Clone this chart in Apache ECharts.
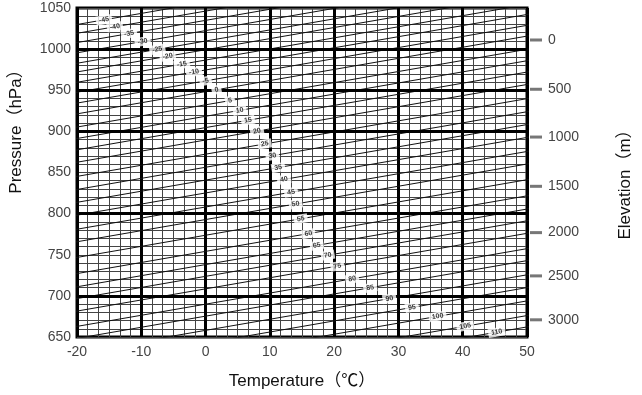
<!DOCTYPE html>
<html>
<head>
<meta charset="utf-8">
<script src="https://cdn.jsdelivr.net/npm/echarts@6/dist/echarts.min.js"></script>
<style>
html,body{margin:0;padding:0;background:#fff;}
#chart{width:642px;height:395px;}
</style>
</head>
<body>
<div id="chart"></div>
<script>
// ---- data ----
const lineValues = [-45,-40,-35,-30,-25,-20,-15,-10,-5,0,5,10,15,20,25,30,35,40,45,50,55,60,65,70,75,80,85,90,95,100,105,110];
// label anchor of each diagonal line (temperature, pressure)
const labelTemps = [-15.8,-14.1,-11.9,-9.8,-7.5,-5.9,-3.7,-1.8,0.0,1.7,3.8,5.3,6.6,8.0,9.2,10.4,11.3,12.2,13.3,14.0,14.8,16.0,17.3,19.0,20.5,22.8,25.6,28.6,32.1,36.1,40.4,45.3];
const labelPress = [1035.6,1027.2,1018.9,1009.3,999.7,991.3,981.7,972.2,961.4,950.6,937.4,925.5,913.5,900.3,884.7,870.4,856.0,841.6,826.0,811.7,793.7,775.7,761.4,749.4,736.2,720.7,709.9,696.7,685.9,675.1,663.1,655.9];
const lineSlope = 1.35; // hPa per degC, common slope of the diagonal lines
const majorPressures = [1000, 950, 900, 800, 700];
const elevations = [0, 500, 1000, 1500, 2000, 2500, 3000];
const elevPressures = [1011.1, 951.2, 893.1, 833.2, 776.9, 724.3, 670.9];

const FONT = 'Liberation Sans, Arial, Noto Sans CJK SC, sans-serif';
const chart = echarts.init(document.getElementById('chart'), null, {renderer: 'canvas'});

const series = [];
lineValues.forEach((v, i) => {
  const t0 = -30, t1 = 60;
  series.push({
    type: 'line', name: 'line' + v, silent: true, symbol: 'none', animation: false,
    clip: true, z: 3,
    lineStyle: {color: '#111', width: 1},
    data: [[t0, labelPress[i] + lineSlope * (t0 - labelTemps[i])],
           [t1, labelPress[i] + lineSlope * (t1 - labelTemps[i])]]
  });
});
// thick pressure lines
series.push({
  type: 'line', data: [], silent: true, animation: false, z: 4,
  markLine: {
    silent: true, symbol: ['none', 'none'], animation: false,
    label: {show: false},
    lineStyle: {color: '#000', width: 3, type: 'solid'},
    data: majorPressures.map(p => ({yAxis: p}))
  }
});
// labels of diagonal lines
series.push({
  type: 'scatter', silent: true, animation: false, z: 10, symbolSize: 1,
  itemStyle: {color: 'rgba(0,0,0,0)'},
  data: lineValues.map((v, i) => ({value: [labelTemps[i], labelPress[i]], name: String(v)})),
  label: {
    show: true, position: 'inside', formatter: p => p.name, rotate: 10,
    fontSize: 7, fontFamily: FONT, color: '#000', fontWeight: 'bold',
    backgroundColor: '#fff', padding: [1, 3]
  }
});
// elevation scale on the right
series.push({
  type: 'custom', silent: true, animation: false, z: 10, clip: false,
  data: elevations.map((e, i) => [e, elevPressures[i]]),
  renderItem: function (params, api) {
    const pt = api.coord([50, api.value(1)]);
    return {
      type: 'group',
      children: [
        {type: 'line', shape: {x1: pt[0] + 3, y1: pt[1], x2: pt[0] + 15, y2: pt[1]},
         style: {stroke: '#777', lineWidth: 3}},
        {type: 'text', x: pt[0] + 21, y: pt[1],
         style: {text: String(api.value(0)), fill: '#444', fontSize: 14, fontFamily: FONT,
                 verticalAlign: 'middle', align: 'left'}}
      ]
    };
  }
});

chart.setOption({
  animation: false,
  backgroundColor: '#fff',
  grid: {left: 69, right: 107, top: 8, bottom: 53, show: true, borderColor: '#000', borderWidth: 3, backgroundColor: 'transparent'},
  xAxis: {
    type: 'value', min: -20, max: 50, interval: 10,
    name: 'Temperature（℃）', nameLocation: 'middle', nameGap: 36,
    nameTextStyle: {fontSize: 17, fontFamily: FONT, color: '#111'},
    axisLine: {show: false}, axisTick: {show: false},
    axisLabel: {fontSize: 14, fontFamily: FONT, color: '#444', margin: 8, formatter: v => String(v)},
    splitLine: {show: true, lineStyle: {color: '#000', width: 3}},
    minorTick: {show: false, splitNumber: 6},
    minorSplitLine: {show: true, lineStyle: {color: '#444', width: 1}}
  },
  yAxis: [{
    type: 'value', min: 650, max: 1050, interval: 50,
    name: 'Pressure（hPa）', nameLocation: 'middle', nameGap: 52, nameRotate: 90,
    nameTextStyle: {fontSize: 17, fontFamily: FONT, color: '#111', padding: [0, 0, 0, 90]},
    axisLine: {show: false}, axisTick: {show: false},
    axisLabel: {fontSize: 14, fontFamily: FONT, color: '#444', margin: 6, formatter: v => String(v)},
    splitLine: {show: true, lineStyle: {color: '#444', width: 1}},
    minorTick: {show: false, splitNumber: 5},
    minorSplitLine: {show: true, lineStyle: {color: '#444', width: 1}}
  }, {
    type: 'value', min: 650, max: 1050, position: 'right',
    name: 'Elevation（m）', nameLocation: 'middle', nameGap: 90, nameRotate: 90,
    nameTextStyle: {fontSize: 17, fontFamily: FONT, color: '#111', padding: [0, 16, 0, 0]},
    axisLine: {show: false}, axisTick: {show: false}, axisLabel: {show: false}, splitLine: {show: false}
  }],
  series: series
});
</script>
</body>
</html>
